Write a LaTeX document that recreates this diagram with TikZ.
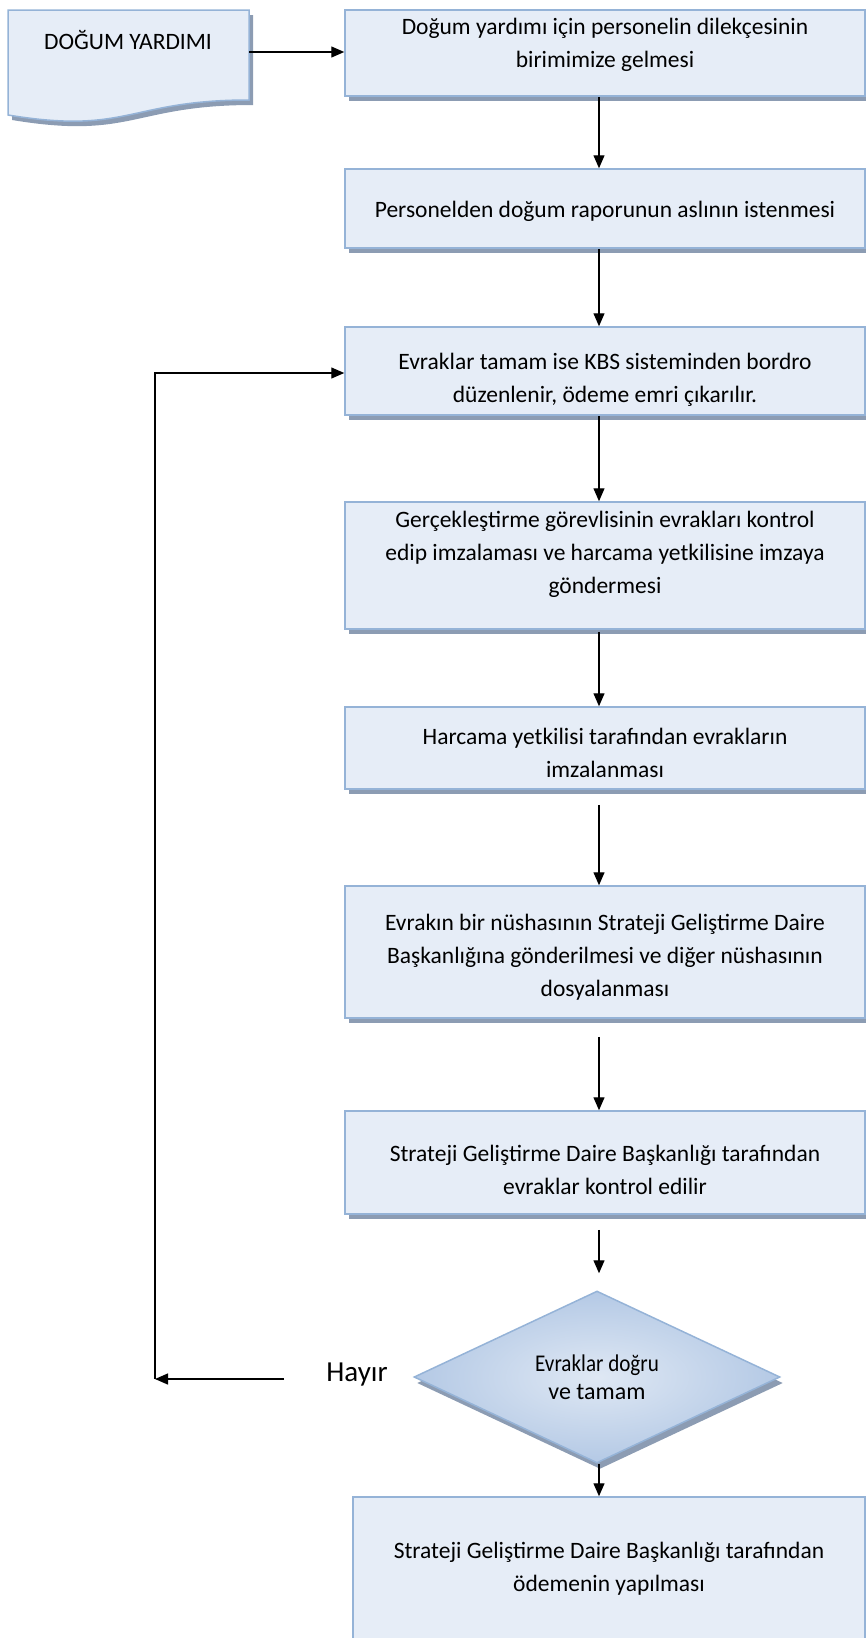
\documentclass[tikz,border=0pt]{standalone}
\usepackage{fontspec}
\setmainfont{Carlito}
\usetikzlibrary{arrows.meta,shapes.geometric,shadows}
\definecolor{boxfill}{HTML}{E6EDF7}
\definecolor{boxline}{HTML}{95B3D7}
\definecolor{shadowc}{HTML}{8C9CB3}
\definecolor{dmdin}{HTML}{DFE8F4}
\definecolor{dmdout}{HTML}{B4C9E5}
\begin{document}
\begin{tikzpicture}[x=1pt,y=-1pt,
  stepbox/.style={draw=boxline, line width=1.5pt, fill=boxfill, inner sep=0pt,
    drop shadow={shadow xshift=4pt, shadow yshift=-5pt, fill=shadowc, opacity=1}},
  txt/.style={align=center, font=\fontsize{23.5}{33}\selectfont, inner sep=0pt},
  arr/.style={-{Triangle[length=13pt,width=11pt]}, line width=1.3pt}
]
\useasboundingbox (0,0) rectangle (866,1638);
% document shape
\fill[shadowc, shift={(4,5)}] (8,10) -- (249,10) -- (249,100) .. controls (128.5,100) and (128.5,135) .. (8,115) -- cycle;
\draw[draw=boxline, line width=1.5pt, fill=boxfill] (8,10) -- (249,10) -- (249,100) .. controls (128.5,100) and (128.5,135) .. (8,115) -- cycle;
\node[txt] (doct) at (128,40) {DOĞUM YARDIMI};
\coordinate (docE) at (249,52);
\coordinate (ax) at (599,0);
% boxes
\node[stepbox, minimum width=520pt, minimum height=86pt] (b1) at (605,53) {};
\node[stepbox, minimum width=520pt, minimum height=79pt] (b2) at (605,208.5) {};
\node[stepbox, minimum width=520pt, minimum height=88pt] (b3) at (605,371) {};
\node[stepbox, minimum width=520pt, minimum height=127pt] (b4) at (605,565.5) {};
\node[stepbox, minimum width=520pt, minimum height=82pt] (b5) at (605,748) {};
\node[stepbox, minimum width=520pt, minimum height=132pt] (b6) at (605,952) {};
\node[stepbox, minimum width=520pt, minimum height=103pt] (b7) at (605,1162.5) {};
\node[stepbox, minimum width=512pt, minimum height=148pt] (b8) at (609,1571) {};
\node[diamond, draw=boxline, line width=1.5pt, inner sep=0pt, aspect=2.14,
  minimum width=366pt, minimum height=172pt, inner color=dmdin, outer color=dmdout,
  drop shadow={shadow xshift=3pt, shadow yshift=-6pt, fill=shadowc, opacity=1}] (dm) at (597,1377) {};
% texts
\node[txt] (t1) at (605,44.5) {Doğum yardımı için personelin dilekçesinin\\birimimize gelmesi};
\node[txt] (t2) at (605,211) {Personelden doğum raporunun aslının istenmesi};
\node[txt] (t3) at (605,380) {Evraklar tamam ise KBS sisteminden bordro\\düzenlenir, ödeme emri çıkarılır.};
\node[txt] (t4) at (605,554) {Gerçekleştirme görevlisinin evrakları kontrol\\edip imzalaması ve harcama yetkilisine imzaya\\göndermesi};
\node[txt] (t5) at (605,753) {Harcama yetkilisi tarafından evrakların\\imzalanması};
\node[txt] (t6) at (605,957) {Evrakın bir nüshasının Strateji Geliştirme Daire\\Başkanlığına gönderilmesi ve diğer nüshasının\\dosyalanması};
\node[txt] (t7) at (605,1169.5) {Strateji Geliştirme Daire Başkanlığı tarafından\\evraklar kontrol edilir};
\node[txt] (t8) at (609,1569) {Strateji Geliştirme Daire Başkanlığı tarafından\\ödemenin yapılması};
\node[align=center, inner sep=0pt, font=\fontsize{24}{28}\selectfont] (dt) at (597,1377) {\scalebox{0.88}[1]{Evraklar doğru}\\ve tamam};
\node[inner sep=0pt, font=\fontsize{29}{34}\selectfont] (hay) at (357,1375) {Hayır};
% connectors
\draw[arr] (docE) -- (b1.west |- docE);
\draw[arr] (b1.south -| ax) -- (b2.north -| ax);
\draw[arr] (b2.south -| ax) -- (b3.north -| ax);
\draw[arr] (b3.south -| ax) -- (b4.north -| ax);
\draw[arr] ([yshift=-2pt]b4.south -| ax) -- (b5.north -| ax);
\draw[arr] ([yshift=-15pt]b5.south -| ax) -- (b6.north -| ax);
\draw[arr] ([yshift=-18pt]b6.south -| ax) -- (b7.north -| ax);
\draw[arr, shorten >=17pt] ([yshift=-15pt]b7.south -| ax) -- (dm.north -| ax);
\draw[arr] (dm.south -| ax) -- (b8.north -| ax);
\coordinate (h1) at (284,1379);
\coordinate (h2) at (155,1379);
\draw[arr] (h1) -- (h2);
\draw[arr] (h2) |- ([yshift=-2pt]b3.west);
\end{tikzpicture}
\end{document}
